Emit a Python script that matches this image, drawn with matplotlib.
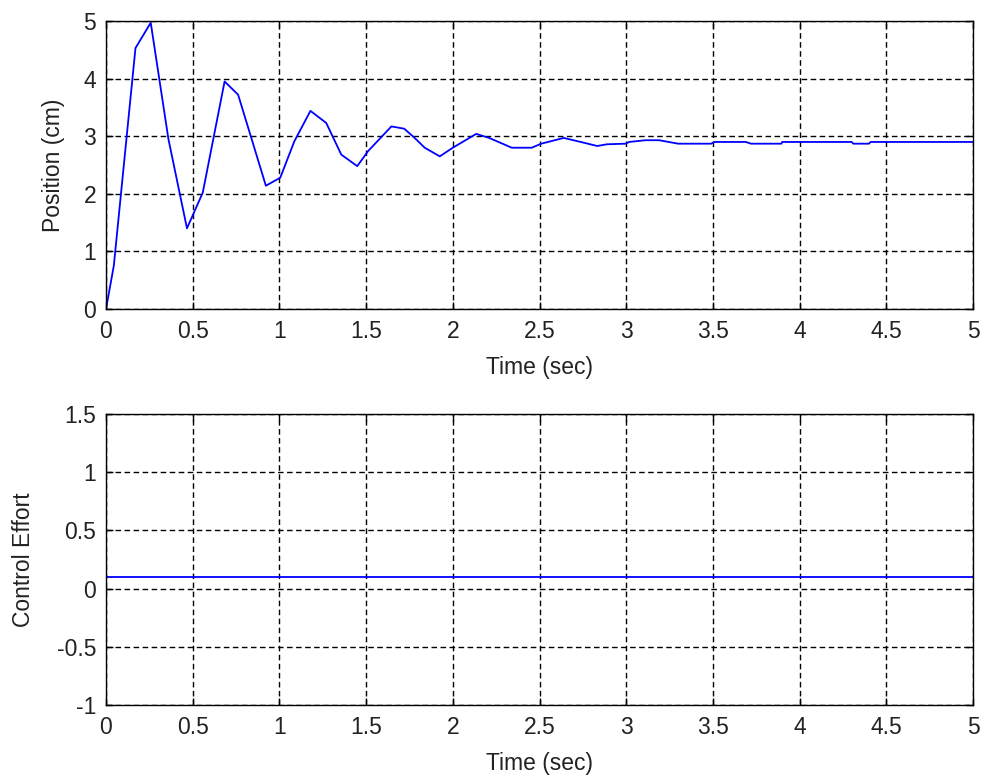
import matplotlib
matplotlib.use("Agg")
import matplotlib.pyplot as plt

plt.rcParams['font.family'] = ['Liberation Sans', 'DejaVu Sans']

# Position response
t_pos = [0.0, 0.045, 0.17, 0.258, 0.36, 0.467, 0.558, 0.684, 0.762, 0.922, 1.005,
         1.086, 1.179, 1.27, 1.357, 1.449, 1.511, 1.646, 1.72, 1.78, 1.838, 1.925,
         2.0, 2.135, 2.21, 2.34, 2.455, 2.51, 2.64, 2.765, 2.833, 2.89, 2.997, 3.017,
         3.11, 3.19, 3.30, 3.49, 3.51, 3.69, 3.72, 3.895, 3.90, 4.30, 4.31, 4.40,
         4.41, 5.0]
y_pos = [0.0, 0.75, 4.53, 4.97, 2.95, 1.40, 2.02, 3.95, 3.72, 2.14, 2.28,
         2.91, 3.44, 3.23, 2.68, 2.48, 2.74, 3.17, 3.13, 2.97, 2.80, 2.65,
         2.80, 3.04, 2.97, 2.80, 2.80, 2.87, 2.97, 2.88, 2.83, 2.86, 2.87, 2.90,
         2.93, 2.93, 2.87, 2.87, 2.90, 2.90, 2.87, 2.87, 2.90, 2.90, 2.87, 2.87,
         2.90, 2.90]

# Control effort
t_ctrl = [0.0, 5.0]
u_ctrl = [0.1, 0.1]

x_ticks = [0, 0.5, 1, 1.5, 2, 2.5, 3, 3.5, 4, 4.5, 5]
x_labels = ['0', '0.5', '1', '1.5', '2', '2.5', '3', '3.5', '4', '4.5', '5']
y1_ticks = [0, 1, 2, 3, 4, 5]
y1_labels = ['0', '1', '2', '3', '4', '5']
y2_ticks = [-1, -0.5, 0, 0.5, 1, 1.5]
y2_labels = ['-1', '-0.5', '0', '0.5', '1', '1.5']

W, H = 983, 779
fig = plt.figure(figsize=(W / 100, H / 100), dpi=100)
left = 106 / W
width = (973 - 106) / W
ax1 = fig.add_axes([left, 1 - 309 / H, width, 288 / H])
ax2 = fig.add_axes([left, 1 - 705 / H, width, 291 / H])

fs = 16.5
for ax in (ax1, ax2):
    ax.set_xlim(0, 5)
    ax.set_xticks(x_ticks)
    ax.set_xticklabels(x_labels)
    ax.grid(True, color='black', linestyle=(0, (4, 2.5)), linewidth=1.0)
    ax.tick_params(direction='in', length=5, width=1, labelsize=fs, top=True, right=True,
                   labelcolor='#222222')
    ax.tick_params(axis='x', pad=8)
    ax.tick_params(axis='y', pad=7)
    for s in ax.spines.values():
        s.set_linewidth(1.0)
    ax.set_xlabel('Time (sec)', fontsize=fs, labelpad=9, color='#222222')

ax1.plot(t_pos, y_pos, color='#0000ff', linewidth=1.3)
ax1.set_ylim(0, 5)
ax1.set_yticks(y1_ticks)
ax1.set_yticklabels(y1_labels)
ax1.set_ylabel('Position (cm)', fontsize=fs, labelpad=13, color='#222222')

ax2.plot(t_ctrl, u_ctrl, color='#0000ff', linewidth=1.3)
ax2.set_ylim(-1, 1.5)
ax2.set_yticks(y2_ticks)
ax2.set_yticklabels(y2_labels)
ax2.set_ylabel('Control Effort', fontsize=fs, labelpad=16, color='#222222')

fig.savefig('out.png', dpi=100)
